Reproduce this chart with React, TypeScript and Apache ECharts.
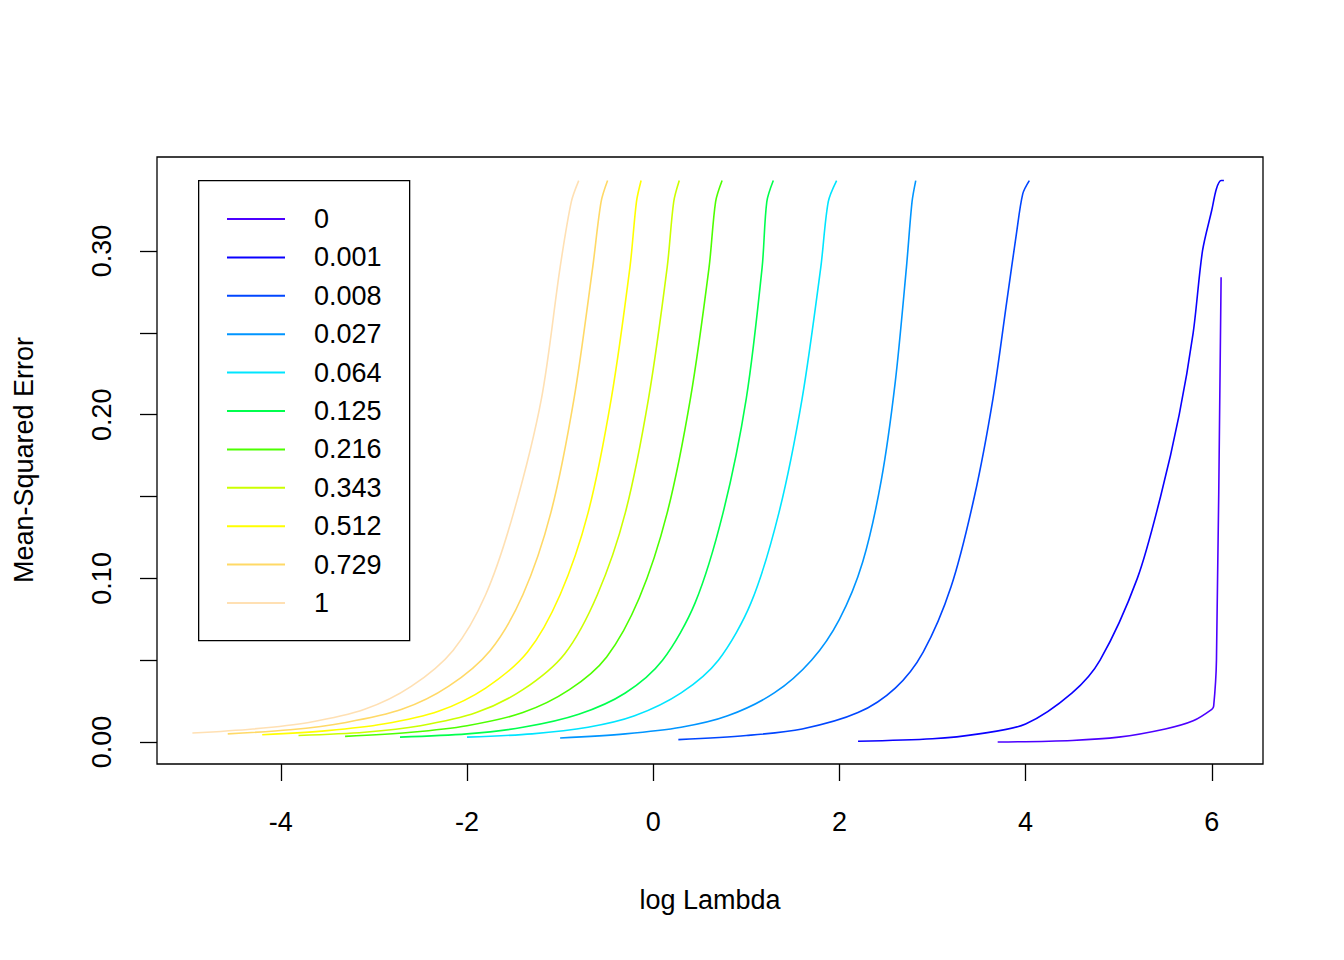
import { useRef, useEffect } from "react";
import * as echarts from "echarts";

const ALPHAS = ["0", "0.001", "0.008", "0.027", "0.064", "0.125", "0.216", "0.343", "0.512", "0.729", "1"];
const COLORS = ["#4C00FF", "#0A00FF", "#0046FF", "#0095FF", "#00E5FF", "#00FF4D", "#4DFF00", "#CCFF00", "#FFFF00", "#FFD966", "#FFE0B3"];

const X_TICKS = [-4, -2, 0, 2, 4, 6];
const Y_TICKS = [0, 0.05, 0.1, 0.15, 0.2, 0.25, 0.3];
const Y_LABELS = [0, 0.1, 0.2, 0.3];

const C0 = [[3.7, 0.0], [4.5, 0.001], [5.0, 0.003], [5.5, 0.008], [5.8, 0.013], [6.0, 0.02], [6.02, 0.022], [6.05, 0.05], [6.1, 0.284]];
const C1 = [[2.2, 0.0005], [3.0, 0.002], [3.5, 0.005], [4.0, 0.011], [4.5, 0.03], [4.8, 0.05], [5.2, 0.1], [5.45, 0.15], [5.65, 0.2], [5.8, 0.25], [5.9, 0.3], [6.0, 0.325], [6.05, 0.338], [6.1, 0.343], [6.13, 0.343]];
const C2 = [[0.27, 0.0015], [1.0, 0.004], [1.6, 0.008], [2.2, 0.018], [2.6, 0.033], [2.9, 0.055], [3.2, 0.095], [3.45, 0.15], [3.65, 0.21], [3.8, 0.27], [3.9, 0.31], [3.97, 0.335], [4.04, 0.343]];
const C3 = [[-1.0, 0.0025], [-0.3, 0.005], [0.3, 0.009], [0.8, 0.016], [1.3, 0.03], [1.7, 0.05], [2.0, 0.075], [2.25, 0.11], [2.45, 0.16], [2.6, 0.22], [2.72, 0.29], [2.78, 0.33], [2.82, 0.343]];
const C4 = [[-2.0, 0.003], [-1.3, 0.005], [-0.7, 0.009], [-0.2, 0.016], [0.3, 0.03], [0.7, 0.05], [1.05, 0.085], [1.35, 0.14], [1.6, 0.21], [1.8, 0.29], [1.88, 0.33], [1.97, 0.343]];
const C5 = [[-2.72, 0.003], [-2.0, 0.005], [-1.4, 0.009], [-0.8, 0.017], [-0.3, 0.03], [0.1, 0.05], [0.45, 0.085], [0.75, 0.14], [1.0, 0.21], [1.17, 0.29], [1.22, 0.33], [1.29, 0.343]];
const C6 = [[-3.31, 0.0035], [-2.6, 0.006], [-2.0, 0.01], [-1.4, 0.018], [-0.9, 0.032], [-0.5, 0.052], [-0.15, 0.088], [0.15, 0.14], [0.4, 0.21], [0.6, 0.29], [0.67, 0.33], [0.74, 0.343]];
const C7 = [[-3.81, 0.004], [-3.1, 0.006], [-2.5, 0.01], [-1.9, 0.018], [-1.4, 0.032], [-0.95, 0.054], [-0.6, 0.09], [-0.3, 0.14], [-0.05, 0.21], [0.15, 0.29], [0.22, 0.33], [0.28, 0.343]];
const C8 = [[-4.2, 0.0045], [-3.5, 0.007], [-2.9, 0.011], [-2.3, 0.019], [-1.8, 0.033], [-1.35, 0.055], [-1.0, 0.09], [-0.7, 0.14], [-0.45, 0.21], [-0.25, 0.29], [-0.18, 0.33], [-0.13, 0.343]];
const C9 = [[-4.57, 0.005], [-3.9, 0.0075], [-3.3, 0.012], [-2.7, 0.02], [-2.2, 0.034], [-1.75, 0.056], [-1.4, 0.09], [-1.1, 0.14], [-0.85, 0.21], [-0.65, 0.29], [-0.56, 0.33], [-0.49, 0.343]];
const C10 = [[-4.95, 0.0055], [-4.3, 0.008], [-3.7, 0.012], [-3.1, 0.02], [-2.6, 0.034], [-2.15, 0.056], [-1.8, 0.09], [-1.5, 0.14], [-1.2, 0.21], [-1.0, 0.29], [-0.88, 0.33], [-0.8, 0.343]];
const CURVES = [C0, C1, C2, C3, C4, C5, C6, C7, C8, C9, C10];

const FONT = "Liberation Sans, Arial, sans-serif";

export default function App() {
  const ref = useRef<HTMLDivElement>(null);
  useEffect(() => {
    if (!ref.current) return;
    const chart = echarts.init(ref.current, null, { renderer: "svg" });
    chart.setOption({
      animation: false,
      backgroundColor: "#ffffff",
      textStyle: { fontFamily: FONT },
      grid: { left: 157, top: 157, width: 1106, height: 607, show: true, borderColor: "#000", borderWidth: 1.3, backgroundColor: "transparent" },
      xAxis: {
        type: "value", min: -5.33, max: 6.55,
        splitLine: { show: false },
        axisLine: { show: false, onZero: false },
        axisTick: { show: true, customValues: X_TICKS, length: 17, lineStyle: { color: "#000", width: 1.3 } },
        axisLabel: { customValues: X_TICKS, color: "#000", fontSize: 27, margin: 44, fontFamily: FONT },
      },
      yAxis: {
        type: "value", min: -0.0134, max: 0.3574,
        splitLine: { show: false },
        axisLine: { show: false, onZero: false },
        axisTick: { show: true, customValues: Y_TICKS, length: 17, lineStyle: { color: "#000", width: 1.3 } },
        axisLabel: { customValues: Y_LABELS, formatter: (v: number) => v.toFixed(2), rotate: 90, color: "#000", fontSize: 27, margin: 42, fontFamily: FONT },
      },
      legend: {
        orient: "vertical", left: 222, top: 199,
        icon: "rect", itemWidth: 58, itemHeight: 2, itemGap: 8.4,
        textStyle: { fontSize: 27, lineHeight: 30, color: "#000", padding: [0, 0, 0, 24], fontFamily: FONT },
        data: ALPHAS,
      },
      graphic: [
        { type: "rect", left: 198, top: 180, shape: { width: 211, height: 460 }, style: { fill: "transparent", stroke: "#000", lineWidth: 1.3 }, z: 0 },
        { type: "text", x: 710, y: 900, style: { text: "log Lambda", font: `27px ${FONT}`, fill: "#000", textAlign: "center", textVerticalAlign: "middle" } },
        { type: "text", x: 24, y: 460, rotation: Math.PI / 2, style: { text: "Mean-Squared Error", font: `27px ${FONT}`, fill: "#000", textAlign: "center", textVerticalAlign: "middle" } },
      ],
      series: CURVES.map((c, i) => ({
        name: ALPHAS[i], type: "line", data: c, showSymbol: false, symbol: "none", smooth: 0.3,
        lineStyle: { color: COLORS[i], width: 1.6 }, itemStyle: { color: COLORS[i] },
      })),
    });
    return () => chart.dispose();
  }, []);
  return <div ref={ref} style={{ position: "fixed", left: 0, top: 0, width: 1344, height: 960 }} />;
}
